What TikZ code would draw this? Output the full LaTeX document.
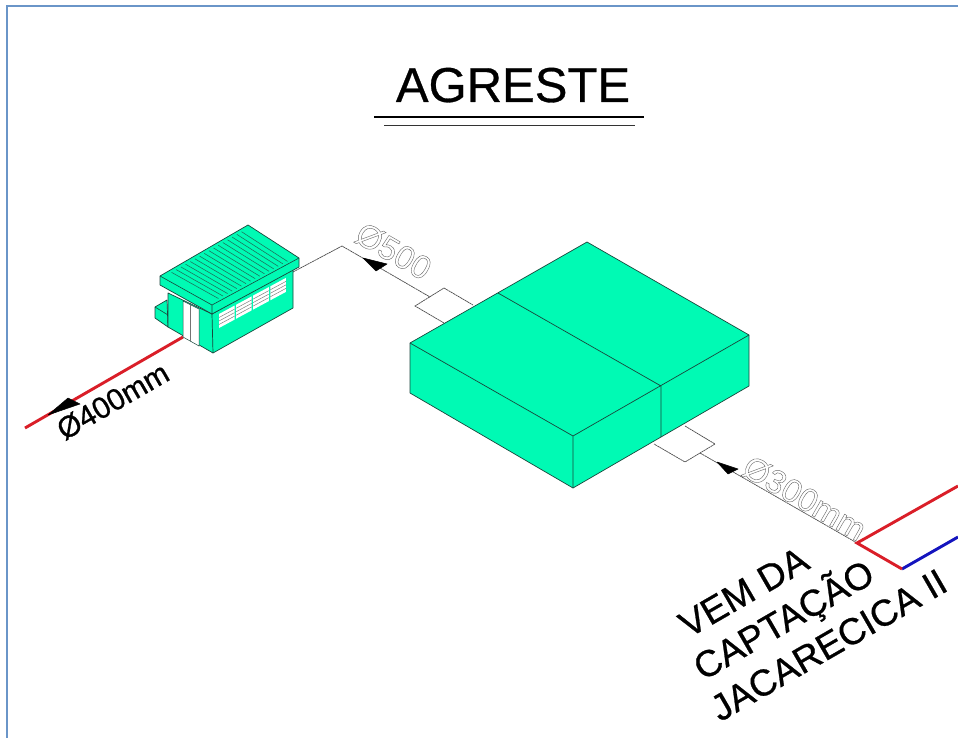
\documentclass[tikz,border=0pt]{standalone}
\usepackage{fontspec}
\setmainfont{Liberation Sans}
\usetikzlibrary{calc}
\definecolor{tankgreen}{RGB}{0,250,180}
\definecolor{framec}{RGB}{106,149,200}
\definecolor{pipered}{RGB}{218,30,40}
\definecolor{pipeblue}{RGB}{20,20,190}
\definecolor{edgec}{RGB}{25,70,60}
\definecolor{slatc}{RGB}{30,110,90}
\newcommand{\outlinetext}[1]{\special{pdf:code 1 Tr 0.4 w}#1\special{pdf:code 0 Tr 1 w}}
\newcommand{\heavytext}[2]{\special{pdf:code 2 Tr #1 w}#2\special{pdf:code 0 Tr 1 w}}
\tikzset{
  x=1pt,y=-1pt,
  solid face/.style={fill=tankgreen,draw=edgec,line width=0.7pt,line join=round},
  thin pipe/.style={draw=black!70,line width=0.7pt,dash pattern=on 2.2pt off 0.5pt},
  fat red/.style={draw=pipered,line width=2.9pt},
  fat blue/.style={draw=pipeblue,line width=2.9pt},
  tiph/.style={fill=black,draw=black,line width=0.5pt,line join=round},
  big label/.style={inner sep=0,anchor=base,font=\fontsize{37}{37}\selectfont,rotate=30},
  ghost label/.style={inner sep=0,anchor=base,text=black!60,font=\fontsize{33}{33}\selectfont},
}
\begin{document}
\begin{tikzpicture}
\useasboundingbox (0,0) rectangle (958,738);
\fill[white] (0,0) rectangle (958,738);
% frame
\coordinate (fa) at (7,738); \coordinate (fb) at (7,6); \coordinate (fc) at (958,6);
\draw[framec,line width=1.8pt] (fa) -- (fb) -- (fc);
% title
\node[inner sep=0,anchor=base,font=\fontsize{49}{49}\selectfont] (title) at (513,102) {\heavytext{0.3}{AGRESTE}};
\coordinate (ul1a) at (374,117.5); \coordinate (ul1b) at (644,117.5);
\coordinate (ul2a) at (384,125.5); \coordinate (ul2b) at (635,125.5);
\draw[black,line width=2pt] (ul1a) -- (ul1b);
\draw[black!80,line width=1.2pt] (ul2a) -- (ul2b);
% connector pipes
\coordinate (peak) at (342,246);
\coordinate (hs) at (293,272);
\coordinate (p1) at (430,297);
\coordinate (b1a) at (415,306); \coordinate (b1b) at (444,288); \coordinate (b1c) at (473,305); \coordinate (b1d) at (444,323);
\coordinate (b2a) at (685,426); \coordinate (b2b) at (715,444); \coordinate (b2c) at (685,462); \coordinate (b2d) at (654,444);
\coordinate (p2) at (700,453);
\coordinate (redc) at (857,543);
\draw[thin pipe] (hs) -- (peak) -- (p1);
\draw[thin pipe] (b1d) -- (b1a) -- (b1b) -- (b1c);
\draw[thin pipe] (b2a) -- (b2b) -- (b2c) -- (b2d);
\draw[thin pipe] (p2) -- (redc);
% tank
\coordinate (tT) at (587,242); \coordinate (tL) at (410,343); \coordinate (tR) at (749,335); \coordinate (tF) at (573,436);
\coordinate (tB) at (573,488); \coordinate (tLB) at (410,393); \coordinate (tRB) at (749,386);
\coordinate (dA) at (498,293); \coordinate (dB) at (661,386); \coordinate (dC) at (661,437);
\path[fill=tankgreen] (tT) -- (tR) -- (tRB) -- (tB) -- (tLB) -- (tL) -- cycle;
\draw[edgec,line width=0.7pt,line join=round] (tT) -- (tR) -- (tRB) -- (tB) -- (tLB) -- (tL) -- cycle;
\draw[edgec,line width=0.7pt] (tL) -- (tF) -- (tR) (tF) -- (tB) (dA) -- (dB) -- (dC);
% red and blue pipes
\coordinate (redr) at (958,486); \coordinate (redb) at (902,569); \coordinate (bluer) at (958,537);
\draw[fat blue] (redb) -- (bluer);
\draw[fat red,line join=miter] (redr) -- (redc) -- (redb);
% house
\coordinate (hBk) at (248,225); \coordinate (hR) at (299,258); \coordinate (hF) at (212,305); \coordinate (hL) at (160,276);
\coordinate (hFd) at (212,314); \coordinate (hLd) at (160,285); \coordinate (hRd) at (299,267);
\coordinate (wL) at (168,293); \coordinate (wLb) at (168,327); \coordinate (wFb) at (213,353); \coordinate (wRb) at (293,308); \coordinate (wRt) at (293,268);
\coordinate (pA) at (155,307); \coordinate (pB) at (167,300); \coordinate (pD) at (168,315); \coordinate (pE) at (155,318); \coordinate (pF) at (168,327);
\coordinate (drA) at (183,301); \coordinate (drB) at (183,337); \coordinate (drC) at (199,346); \coordinate (drD) at (199,309);
\coordinate (drM1) at (190,305); \coordinate (drM2) at (190,341);
% outgoing red pipe
\coordinate (redout) at (25,428);
\draw[fat red] (drB) -- (redout);
% porch
\draw[solid face] (pA) -- (pB) -- (pF) -- (pE) -- cycle;
\draw[edgec,line width=0.6pt] (pA) -- (pD);
% walls
\draw[solid face] (wL) -- (wLb) -- (wFb) -- (wRb) -- (wRt) -- (hFd) -- cycle;
\draw[edgec,line width=0.7pt] (hFd) -- (wFb);
\draw[fill=white,draw=edgec,line width=0.5pt] (drA) -- (drB) -- (drC) -- (drD) -- cycle;
\draw[black!55,line width=1pt] (drM1) -- (drM2);
% windows
\foreach \i in {0,1,2,3}{
  \pgfmathsetmacro{\xa}{219+17.1*\i}
  \pgfmathsetmacro{\xb}{\xa+15.6}
  \pgfmathsetmacro{\ya}{314-0.54*17.1*\i}
  \pgfmathsetmacro{\yb}{\ya-8.4}
  \fill[white] (\xa,\ya) -- (\xb,\yb) -- (\xb,\yb+14) -- (\xa,\ya+14) -- cycle;
  \foreach \d in {3.5,7,10.5}{
    \draw[black!50,line width=0.5pt] (\xa,\ya+\d) -- (\xb,\yb+\d);
  }
}
% roof
\draw[solid face] (hL) -- (hBk) -- (hR) -- (hRd) -- (hFd) -- (hLd) -- cycle;
\draw[edgec,line width=0.6pt] (hL) -- (hF) -- (hR) (hF) -- (hFd);
\coordinate (iL) at ($(hL)!0.05!(hR)$);
\coordinate (iBk) at ($(hBk)!0.05!(hF)$);
\coordinate (iR) at ($(hR)!0.05!(hL)$);
\coordinate (iF) at ($(hF)!0.05!(hBk)$);
\foreach \n in {1,...,16}{
  \pgfmathsetmacro{\t}{\n/17}
  \draw[slatc,line width=0.55pt] ($(iL)!\t!(iBk)$) -- ($(iF)!\t!(iR)$);
}
% arrowheads
\coordinate (a1t) at (363,258); \coordinate (a1b) at (376,271); \coordinate (a1c) at (387,264);
\coordinate (a2t) at (717,462); \coordinate (a2b) at (738,469); \coordinate (a2c) at (728,474);
\coordinate (a3t) at (48,415); \coordinate (a3b) at (68,398); \coordinate (a3c) at (80,404);
\draw[tiph] (a1t) -- (a1b) -- (a1c) -- cycle;
\draw[tiph] (a2t) -- (a2b) -- (a2c) -- cycle;
\draw[tiph] (a3t) -- (a3b) -- (a3c) -- cycle;
% labels
\node[ghost label,rotate=-30] (d500) at (388,261) {\outlinetext{Ø500}};
\node[ghost label,rotate=-30] (d300) at (799,508) {\outlinetext{Ø300mm}};
\node[inner sep=0,anchor=base,rotate=30,font=\fontsize{30}{30}\selectfont] (d400) at (118,410) {\heavytext{0.25}{Ø400mm}};
\node[big label] (lvem) at (750,603) {\heavytext{0.25}{VEM DA}};
\node[big label] (lcap) at (790,631) {\heavytext{0.25}{CAPTAÇÃO}};
\node[big label] (ljac) at (835,656) {\heavytext{0.25}{JACARECICA II}};
\end{tikzpicture}
\end{document}
